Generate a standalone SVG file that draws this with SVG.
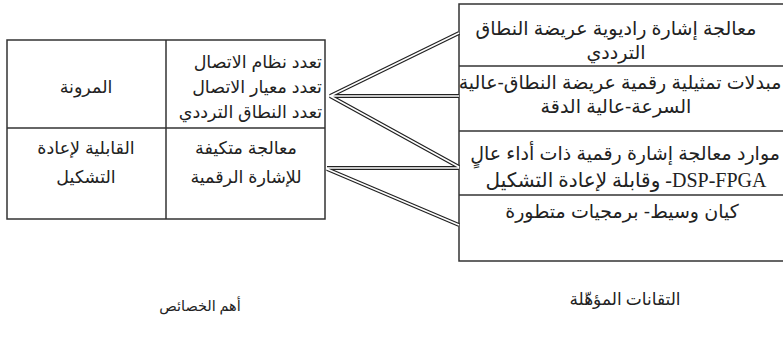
<svg xmlns="http://www.w3.org/2000/svg" width="783" height="340" viewBox="0 0 783 340">
<style>
.box{fill:none;stroke:#333;stroke-width:1.5}
.t{font-family:"Liberation Sans","DejaVu Sans",sans-serif;font-size:17.5px;fill:#222}
.b{font-size:19px}
.s{font-family:"Liberation Serif","DejaVu Serif","DejaVu Sans",serif;font-size:20px;fill:#222}
.l{font-family:"Liberation Serif","DejaVu Sans",serif;fill:#222}
.c{text-anchor:middle}
.r{text-anchor:end}
.outer{fill:none;stroke:#222;stroke-width:4}
.inner{fill:none;stroke:#fff;stroke-width:1.5}
</style>
<rect width="783" height="340" fill="#fff"/>
<g id="features">
<rect class="box" x="7" y="40" width="318" height="179"/>
<line class="box" x1="166" y1="40" x2="166" y2="219"/>
<line class="box" x1="7" y1="128" x2="325" y2="128"/>
<text class="t c" x="86" y="93">المرونة</text>
<text class="t r" x="322" y="68">تعدد نظام الاتصال</text>
<text class="t r" x="322" y="93">تعدد معيار الاتصال</text>
<text class="t r" x="322" y="118">تعدد النطاق الترددي</text>
<text class="t c" x="86" y="154">القابلية لإعادة</text>
<text class="t c" x="86" y="183">التشكيل</text>
<text class="t c" x="246" y="154">معالجة متكيفة</text>
<text class="t c" x="246" y="183">للإشارة الرقمية</text>
</g>
<g id="technologies">
<path class="box" d="M790 4 H459 V261 H790"/>
<line class="box" x1="459" y1="66" x2="790" y2="66"/>
<line class="box" x1="459" y1="131" x2="790" y2="131"/>
<line class="box" x1="459" y1="195" x2="790" y2="195"/>
<text class="t b c" x="616" y="35">معالجة إشارة راديوية عريضة النطاق</text>
<text class="t b c" x="616" y="59">الترددي</text>
<text class="t b c" x="620" y="89">مبدلات تمثيلية رقمية عريضة النطاق-عالية</text>
<text class="t b c" x="616" y="113">السرعة-عالية الدقة</text>
<text class="t b c" x="625" y="160">موارد معالجة إشارة رقمية ذات أداء عالٍ</text>
<text class="s c" x="626" y="187">وقابلة لإعادة التشكيل -DSP-FPGA</text>
<text class="t b c" x="622" y="218">كيان وسيط- برمجيات متطورة</text>
</g>
<g id="connectors">
<path class="outer" d="M330 96 L459 33 M330 96 L459 96 M330 96 L459 167 M327 168 L459 168 M327 169 L459 225"/>
<path class="inner" d="M330 96 L459 33 M330 96 L459 96 M330 96 L459 167 M327 168 L459 168 M327 169 L459 225"/>
</g>
<g id="labels">
<text class="l c" x="625" y="305" font-size="17">التقانات المؤهّلة</text>
<text class="l c" x="200" y="311" font-size="14.5">أهم الخصائص</text>
</g>
</svg>
